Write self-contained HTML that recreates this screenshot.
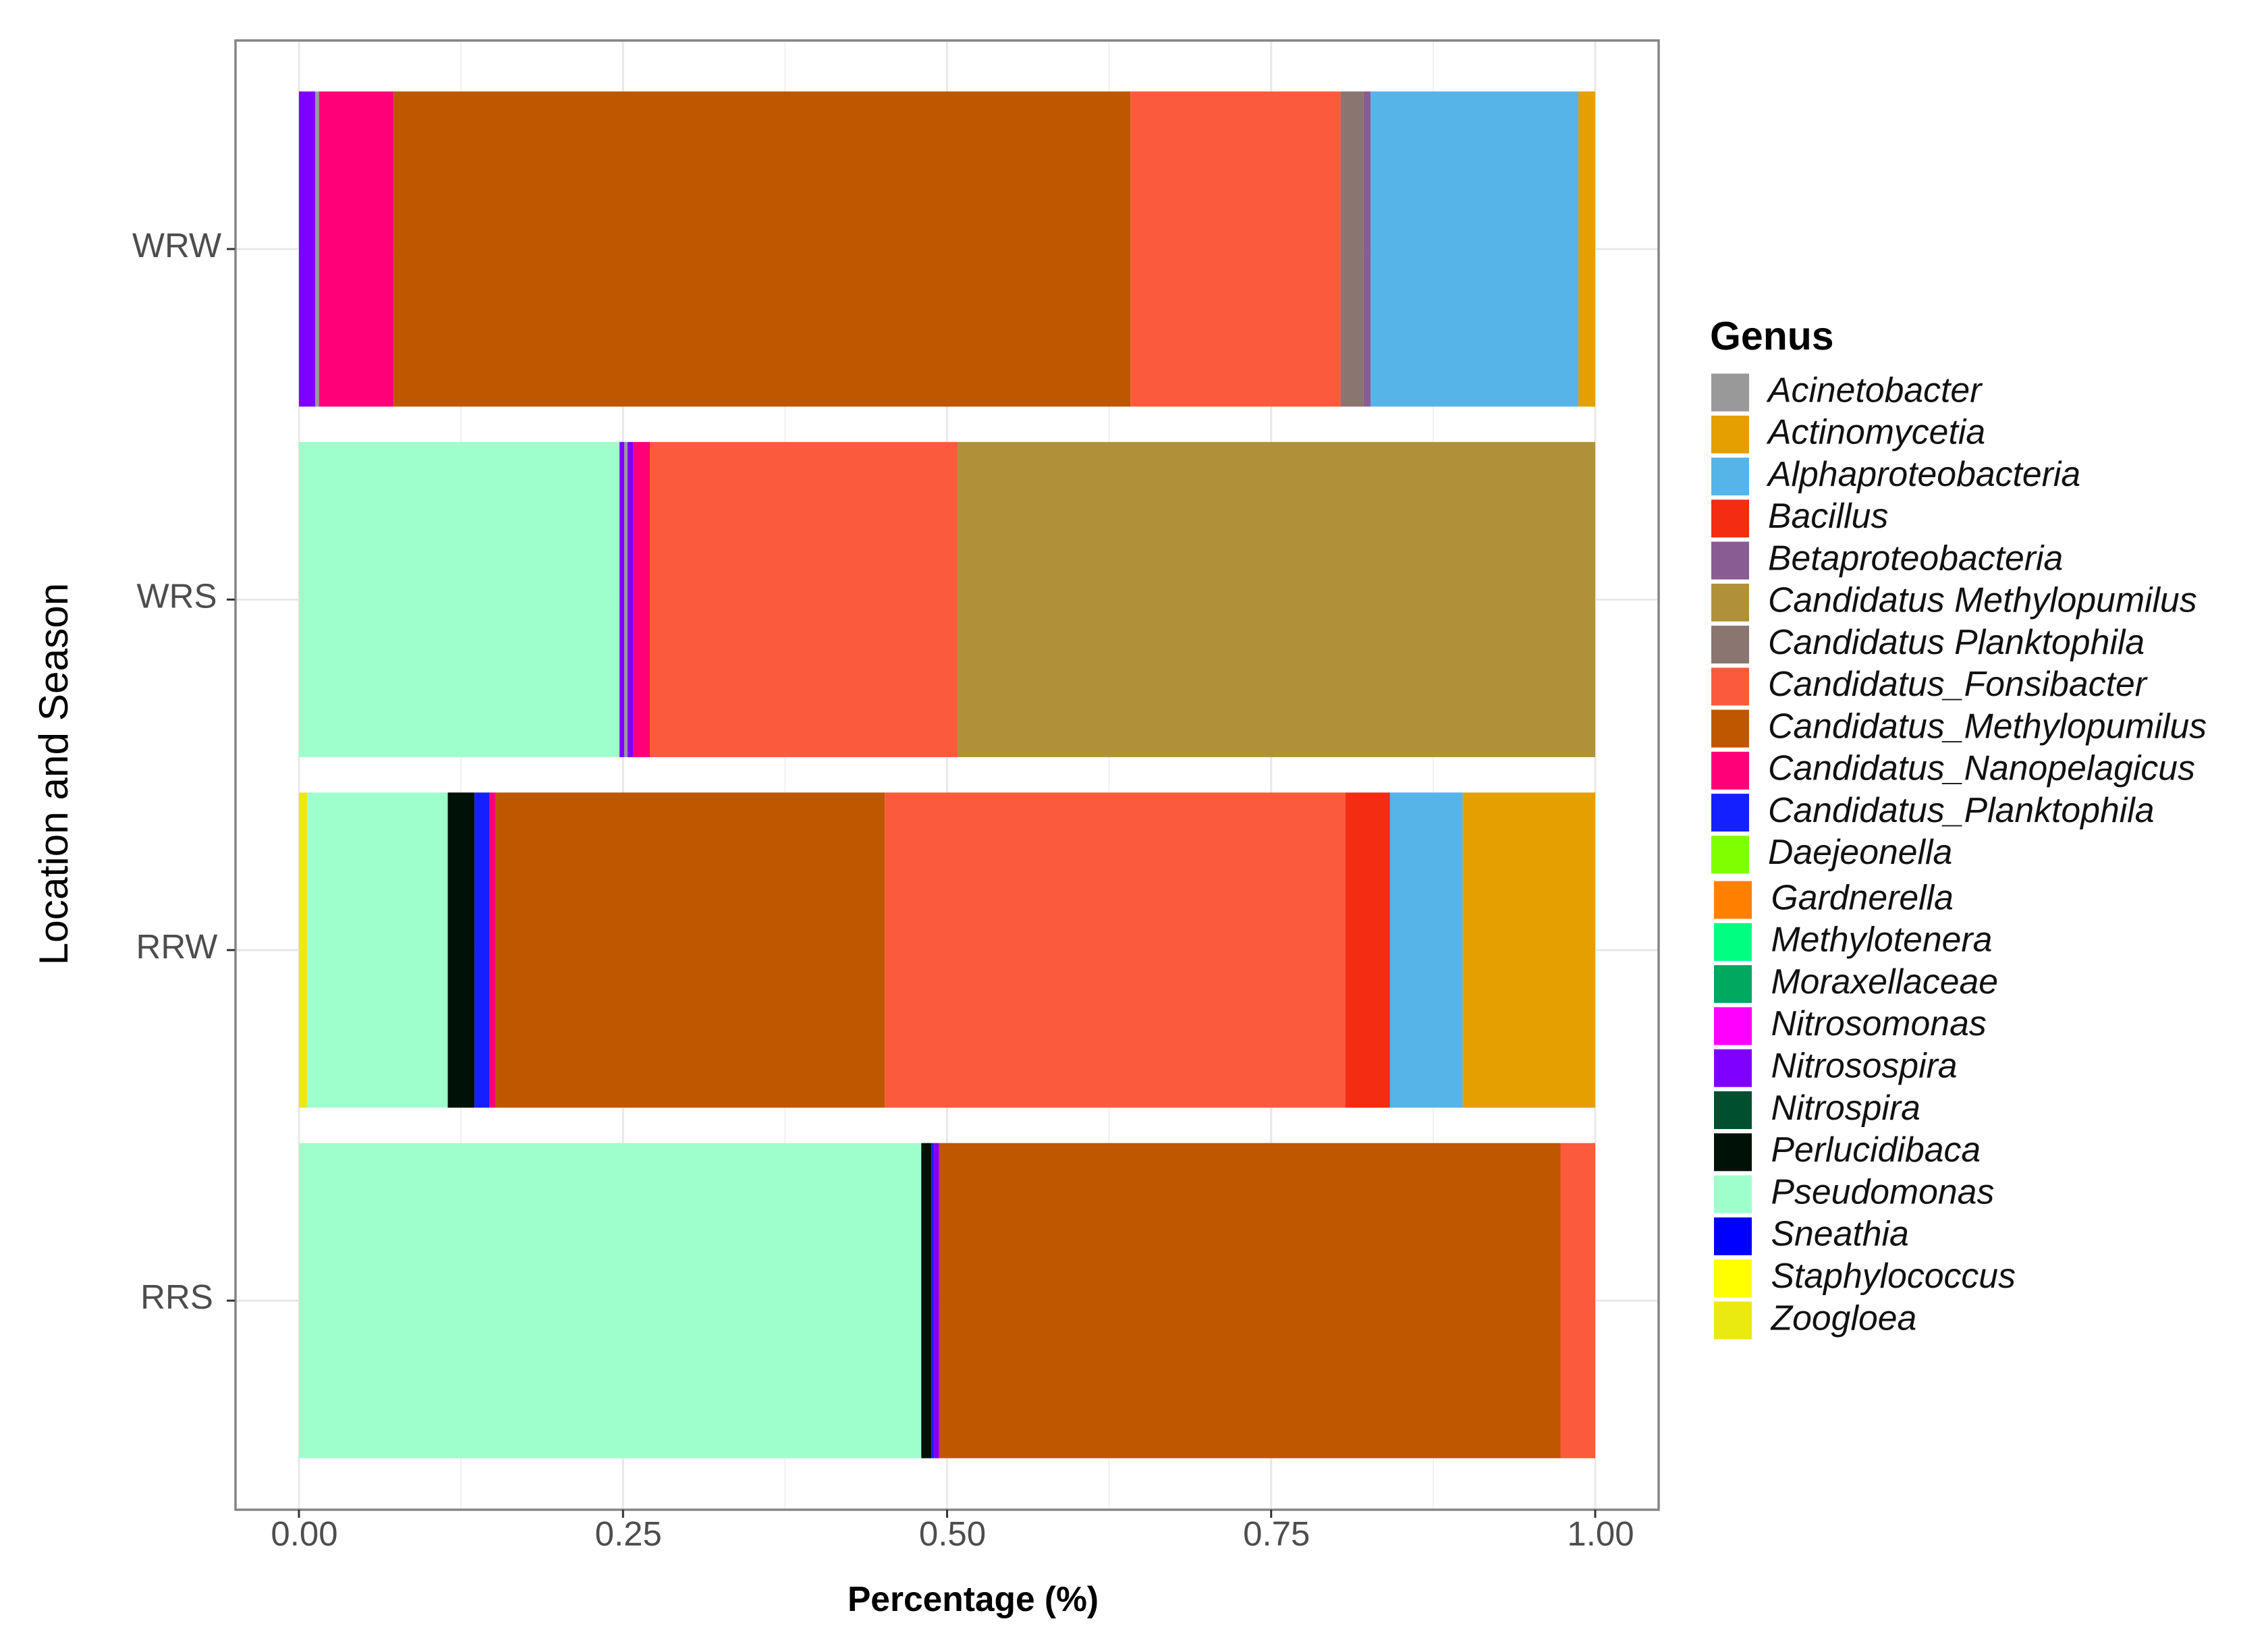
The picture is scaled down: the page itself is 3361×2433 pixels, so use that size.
<!DOCTYPE html>
<html lang="en">
<head>
<meta charset="utf-8">
<title>Genus composition by location and season</title>
<style>
html,body{margin:0;padding:0;background:#fff;}
svg{display:block;font-family:"Liberation Sans",Arial,sans-serif;}
</style>
</head>
<body>
<svg id="chart" xmlns="http://www.w3.org/2000/svg" width="3361" height="2433" viewBox="0 0 3361 2433">
  <rect x="0" y="0" width="3361" height="2433" fill="#ffffff"/>
  <g id="grid"></g>
  <g id="bars"></g>
  <rect x="349" y="60" width="2109" height="2177" fill="none" stroke="#858585" stroke-width="3.5"/>
  <g id="axes"></g>
  <text x="1442" y="2387" font-size="51.5" font-weight="700" text-anchor="middle" fill="#000">Percentage (%)</text>
  <text transform="translate(100 1147) rotate(-90)" font-size="60.3" text-anchor="middle" fill="#000">Location and Season</text>
  <text x="2534" y="518" font-size="59" font-weight="700" fill="#000">Genus</text>
  <g id="legend"></g>
</svg>
<script>
// Categories
const categories = ['WRW', 'WRS', 'RRW', 'RRS'];
const genera = ['Acinetobacter', 'Actinomycetia', 'Alphaproteobacteria', 'Bacillus', 'Betaproteobacteria', 'Candidatus Methylopumilus', 'Candidatus Planktophila', 'Candidatus_Fonsibacter', 'Candidatus_Methylopumilus', 'Candidatus_Nanopelagicus', 'Candidatus_Planktophila', 'Daejeonella', 'Gardnerella', 'Methylotenera', 'Moraxellaceae', 'Nitrosomonas', 'Nitrosospira', 'Nitrospira', 'Perlucidibaca', 'Pseudomonas', 'Sneathia', 'Staphylococcus', 'Zoogloea'];

// Series values: left-to-right stack order for each bar
const wrwGenera = ['Nitrosospira', 'Acinetobacter', 'Candidatus_Nanopelagicus', 'Candidatus_Methylopumilus', 'Candidatus_Fonsibacter', 'Candidatus Planktophila', 'Betaproteobacteria', 'Alphaproteobacteria', 'Actinomycetia'];
const wrwValues = [0.0125, 0.0030, 0.0575, 0.5685, 0.1622, 0.0177, 0.0054, 0.1602, 0.0130];

const wrsGenera = ['Pseudomonas', 'Nitrosospira', 'Acinetobacter', 'Nitrosospira', 'Candidatus_Nanopelagicus', 'Candidatus_Fonsibacter', 'Candidatus Methylopumilus'];
const wrsValues = [0.2473, 0.0036, 0.0026, 0.0042, 0.0130, 0.2374, 0.4919];

const rrwGenera = ['Zoogloea', 'Pseudomonas', 'Perlucidibaca', 'Candidatus_Planktophila', 'Candidatus_Nanopelagicus', 'Candidatus_Methylopumilus', 'Candidatus_Fonsibacter', 'Bacillus', 'Alphaproteobacteria', 'Actinomycetia'];
const rrwValues = [0.0062, 0.1086, 0.0207, 0.0115, 0.0045, 0.3005, 0.3552, 0.0345, 0.0561, 0.1022];

const rrsGenera = ['Pseudomonas', 'Perlucidibaca', 'Candidatus_Planktophila', 'Nitrosospira', 'Candidatus_Nanopelagicus', 'Candidatus_Methylopumilus', 'Candidatus_Fonsibacter'];
const rrsValues = [0.4801, 0.0078, 0.0021, 0.0036, 0.0009, 0.4787, 0.0268];

// Tick labels
const xMajorTicks = [0, 0.25, 0.5, 0.75, 1];
const xMajorLabels = ['0.00', '0.25', '0.50', '0.75', '1.00'];
const xMinorTicks = [0.125, 0.375, 0.625, 0.875];

const barGenera = [wrwGenera, wrsGenera, rrwGenera, rrsGenera];
const barValues = [wrwValues, wrsValues, rrwValues, rrsValues];

const genusColors = {
  'Acinetobacter': '#999999',
  'Actinomycetia': '#E69F00',
  'Alphaproteobacteria': '#56B4E9',
  'Bacillus': '#F32C12',
  'Betaproteobacteria': '#8A5C94',
  'Candidatus Methylopumilus': '#B19138',
  'Candidatus Planktophila': '#8A7570',
  'Candidatus_Fonsibacter': '#FB5B3C',
  'Candidatus_Methylopumilus': '#BD5800',
  'Candidatus_Nanopelagicus': '#FF0078',
  'Candidatus_Planktophila': '#1420FF',
  'Daejeonella': '#80FF00',
  'Gardnerella': '#FF8000',
  'Methylotenera': '#00FF80',
  'Moraxellaceae': '#00A860',
  'Nitrosomonas': '#FF00FF',
  'Nitrosospira': '#8000FF',
  'Nitrospira': '#005030',
  'Perlucidibaca': '#001208',
  'Pseudomonas': '#9FFFCC',
  'Sneathia': '#0000FF',
  'Staphylococcus': '#FFFF00',
  'Zoogloea': '#EAEA10'
};

const SVGNS = 'http://www.w3.org/2000/svg';
const PANEL = { left: 348, right: 2459, top: 59, bottom: 2237 };

function xScale(v) {
  return 443 + 1921 * v;
}
function yCenter(index) {
  return 369 + 519.4 * index;
}
const bandHeight = 467;

function make(tag, parent, attrs) {
  const el = document.createElementNS(SVGNS, tag);
  Object.keys(attrs).forEach(function (k) { el.setAttribute(k, attrs[k]); });
  parent.appendChild(el);
  return el;
}
function kebab(s) {
  return s.toLowerCase().replace(/[^a-z0-9]+/g, '-');
}

const gridG = document.getElementById('grid');
const barsG = document.getElementById('bars');
const axesG = document.getElementById('axes');
const legendG = document.getElementById('legend');

xMinorTicks.forEach(function (t) {
  const line = make('line', gridG, { x1: xScale(t), x2: xScale(t), y1: PANEL.top, y2: PANEL.bottom, stroke: '#efefef', 'stroke-width': 1.8 });
  
  
});
xMajorTicks.forEach(function (t) {
  const line = make('line', gridG, { x1: xScale(t), x2: xScale(t), y1: PANEL.top, y2: PANEL.bottom, stroke: '#e8e8e8', 'stroke-width': 3 });
  
  
});
categories.forEach(function (c, i) {
  const line = make('line', gridG, { x1: PANEL.left, x2: PANEL.right, y1: yCenter(i), y2: yCenter(i), stroke: '#e8e8e8', 'stroke-width': 3 });
  
  
});

categories.forEach(function (c, i) {
  let cumulative = 0;
  const names = barGenera[i];
  const values = barValues[i];
  values.forEach(function (v, j) {
    const x0 = xScale(cumulative);
    const x1 = xScale(cumulative + v);
    const seg = make('rect', barsG, { x: x0, y: yCenter(i) - bandHeight / 2, width: x1 - x0, height: bandHeight, fill: genusColors[names[j]] });
    
    
    cumulative += v;
  });
});

xMajorTicks.forEach(function (t, i) {
  const tick = make('line', axesG, { x1: xScale(t), x2: xScale(t), y1: PANEL.bottom, y2: PANEL.bottom + 12, stroke: '#333333', 'stroke-width': 3 });
  
  
  const label = make('text', axesG, { x: xScale(t) + 8, y: 2290, 'font-size': 51, 'text-anchor': 'middle', fill: '#4d4d4d' });
  
  
  label.textContent = xMajorLabels[i];
});

categories.forEach(function (c, i) {
  const tick = make('line', axesG, { x1: 336, x2: PANEL.left, y1: yCenter(i), y2: yCenter(i), stroke: '#333333', 'stroke-width': 3 });
  
  
  const label = make('text', axesG, { x: 262, y: yCenter(i) + 12, 'font-size': 51, 'text-anchor': 'middle', fill: '#4d4d4d' });
  
  
  label.textContent = c;
});

function legendTop(i) {
  return i < 12 ? 553.6 + 62.25 * i : 1305.5 + 62.3 * (i - 12);
}
function legendSwatchX(i) {
  return i < 12 ? 2536 : 2540;
}
function legendTextX(i) {
  return i < 12 ? 2620 : 2624.5;
}
genera.forEach(function (g, i) {
  const entry = make('g', legendG, {});
  
  
  const swatch = make('rect', entry, { x: legendSwatchX(i), y: legendTop(i), width: 56, height: 56, fill: genusColors[g] });
  
  
  const label = make('text', entry, { x: legendTextX(i), y: legendTop(i) + 41.8, 'font-size': 51.75, 'font-style': 'italic', fill: '#111111' });
  
  
  label.textContent = g;
});
</script>
</body>
</html>
